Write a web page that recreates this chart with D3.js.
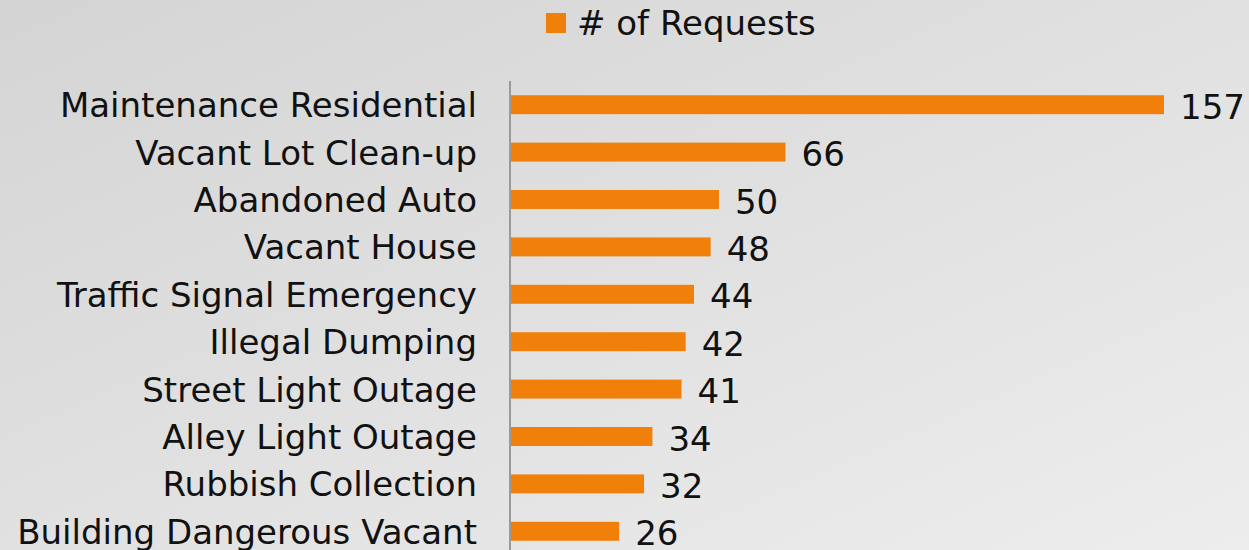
<!DOCTYPE html>
<html>
<head>
<meta charset="utf-8">
<script src="https://cdn.jsdelivr.net/npm/d3@7"></script>
<style>
  html, body { margin: 0; padding: 0; }
  #wrapper { width: 1249px; height: 550px; overflow: hidden; }
</style>
</head>
<body>
<div id="wrapper"></div>
<script>
const categories = [
  "Maintenance Residential",
  "Vacant Lot Clean-up",
  "Abandoned Auto",
  "Vacant House",
  "Traffic Signal Emergency",
  "Illegal Dumping",
  "Street Light Outage",
  "Alley Light Outage",
  "Rubbish Collection",
  "Building Dangerous Vacant"
]
const requests = [157, 66, 50, 48, 44, 42, 41, 34, 32, 26]
const seriesName = "# of Requests"

const data = categories.map((c, i) => ({ category: c, value: requests[i] }))
const xAccessor = d => d.value
const yAccessor = d => d.category

// dimensions
const width = 1249
const height = 550
const margin = { top: 81, left: 511 }
const step = 47.4
const barColor = "#f0800a"
const font = "'DejaVu Sans', Verdana, sans-serif"
const fontSize = "34px"

const svg = d3.select("#wrapper")
  .append("svg")
    .attr("width", width)
    .attr("height", height)

// background gradient
const grad = svg.append("defs").append("linearGradient")
    .attr("id", "bg")
    .attr("x1", "0%").attr("y1", "0%")
    .attr("x2", "100%").attr("y2", "100%")
grad.append("stop").attr("offset", "0%").attr("stop-color", "#d4d4d4")
grad.append("stop").attr("offset", "100%").attr("stop-color", "#ededed")

svg.append("rect")
    .attr("width", width)
    .attr("height", height)
    .attr("fill", "url(#bg)")

// scales
const xScale = d3.scaleLinear()
  .domain([0, 157])
  .range([margin.left, 1164])

const yScale = d3.scaleBand()
  .domain(categories)
  .range([margin.top, margin.top + step * categories.length])
  .paddingInner(0.6)
  .paddingOuter(0.3)

// bars
svg.append("g")
  .selectAll("rect")
  .data(data)
  .join("rect")
    .attr("x", xScale(0))
    .attr("y", d => yScale(yAccessor(d)))
    .attr("width", d => xScale(xAccessor(d)) - xScale(0))
    .attr("height", yScale.bandwidth())
    .attr("fill", barColor)

// value labels
svg.append("g")
  .selectAll("text")
  .data(data)
  .join("text")
    .attr("x", d => xScale(xAccessor(d)) + 16)
    .attr("y", d => yScale(yAccessor(d)) + yScale.bandwidth() / 2 + 14)
    .text(xAccessor)
    .style("font-family", font)
    .style("font-size", fontSize)
    .attr("fill", "#111")

// category axis
const yAxis = svg.append("g")
    .attr("transform", `translate(${margin.left - 1},0)`)
    .call(d3.axisLeft(yScale).tickSize(0).tickPadding(33))
yAxis.select(".domain")
    .attr("d", `M0,${margin.top}V${height}`)
    .attr("stroke", "#9a9a9a")
    .attr("stroke-width", 2)
yAxis.selectAll("text")
    .attr("dy", "0.37em")
    .style("font-family", font)
    .style("font-size", fontSize)
    .attr("fill", "#111")

// legend
const legend = svg.append("g")
legend.append("rect")
    .attr("x", 546).attr("y", 13)
    .attr("width", 20).attr("height", 20)
    .attr("fill", barColor)
legend.append("text")
    .attr("x", 577).attr("y", 35)
    .text(seriesName)
    .style("font-family", font)
    .style("font-size", fontSize)
    .attr("fill", "#111")
</script>
</body>
</html>
